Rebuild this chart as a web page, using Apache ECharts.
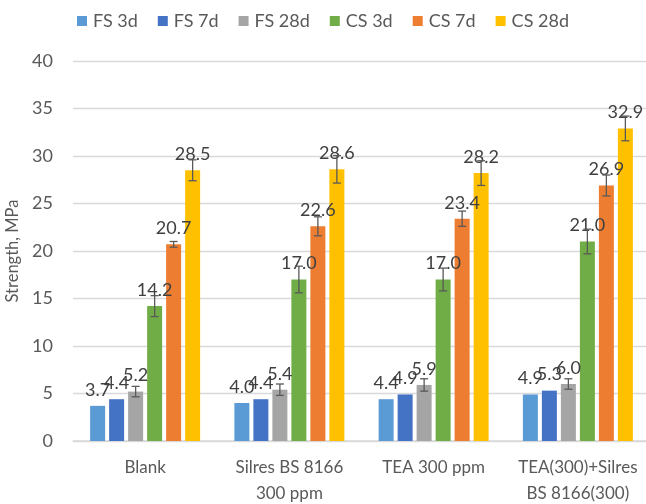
<!DOCTYPE html>
<html>
<head>
<meta charset="utf-8">
<script src="https://cdn.jsdelivr.net/npm/echarts@6/dist/echarts.min.js"></script>
<style>
  html, body { margin: 0; padding: 0; background: #fff; }
  #chart { width: 646px; height: 504px; }
</style>
</head>
<body>
<div id="chart"></div>
<script>
// Mixtures tested
const categories = ['Blank', 'Silres BS 8166\n300 ppm', 'TEA 300 ppm', 'TEA(300)+Silres\nBS 8166(300)'];

// Flexural (FS) and compressive (CS) strength, MPa
const fs3d  = [3.7, 4.0, 4.4, 4.9];
const fs7d  = [4.4, 4.4, 4.9, 5.3];
const fs28d = [5.2, 5.4, 5.9, 6.0];
const cs3d  = [14.2, 17.0, 17.0, 21.0];
const cs7d  = [20.7, 22.6, 23.4, 26.9];
const cs28d = [28.5, 28.6, 28.2, 32.9];

// Standard deviations (null = no error bar)
const fs3dErr  = [null, null, null, null];
const fs7dErr  = [null, null, null, null];
const fs28dErr = [0.55, 0.6, 0.65, 0.55];
const cs3dErr  = [1.1, 1.4, 1.2, 1.3];
const cs7dErr  = [0.3, 1.0, 0.8, 1.1];
const cs28dErr = [1.1, 1.45, 1.3, 1.3];

const yTicks = { min: 0, max: 40, interval: 5 };

const seriesDefs = [
  { name: 'FS 3d',  values: fs3d,  err: fs3dErr,  color: '#5B9BD5' },
  { name: 'FS 7d',  values: fs7d,  err: fs7dErr,  color: '#4472C4' },
  { name: 'FS 28d', values: fs28d, err: fs28dErr, color: '#A5A5A5' },
  { name: 'CS 3d',  values: cs3d,  err: cs3dErr,  color: '#70AD47' },
  { name: 'CS 7d',  values: cs7d,  err: cs7dErr,  color: '#ED7D31' },
  { name: 'CS 28d', values: cs28d, err: cs28dErr, color: '#FFC000' }
];

const FONT = 'Lato';
const BAR_W = 15;
const BAR_STEP = 19;
const n = seriesDefs.length;

const barSeries = seriesDefs.map(s => ({
  name: s.name,
  type: 'bar',
  barWidth: BAR_W,
  barGap: ((BAR_STEP - BAR_W) / BAR_W * 100).toFixed(2) + '%',
  itemStyle: { color: s.color },
  data: s.values,
  z: 2,
  label: {
    show: true,
    position: 'top',
    distance: 7,
    formatter: p => p.value.toFixed(1),
    fontFamily: FONT,
    fontSize: 18,
    color: '#404040'
  }
}));

const errSeries = seriesDefs.map((s, i) => ({
  name: s.name + ' err',
  type: 'custom',
  z: 3,
  silent: true,
  data: s.values.map((v, c) => s.err[c] == null ? null : [c, v - s.err[c], v + s.err[c]]).filter(d => d),
  renderItem: function (params, api) {
    const offset = (i - (n - 1) / 2) * BAR_STEP;
    const cx = api.coord([api.value(0), 0])[0] + offset;
    const yLo = api.coord([api.value(0), api.value(1)])[1];
    const yHi = api.coord([api.value(0), api.value(2)])[1];
    const cap = 4;
    const style = { stroke: '#595959', lineWidth: 1.3 };
    return {
      type: 'group',
      children: [
        { type: 'line', shape: { x1: cx, y1: yLo, x2: cx, y2: yHi }, style },
        { type: 'line', shape: { x1: cx - cap, y1: yHi, x2: cx + cap, y2: yHi }, style },
        { type: 'line', shape: { x1: cx - cap, y1: yLo, x2: cx + cap, y2: yLo }, style }
      ]
    };
  }
}));

const chart = echarts.init(document.getElementById('chart'), null, { renderer: 'canvas' });
chart.setOption({
  animation: false,
  backgroundColor: '#ffffff',
  textStyle: { fontFamily: FONT },
  legend: {
    data: seriesDefs.map(s => s.name),
    top: 7,
    left: 'center',
    icon: 'rect',
    itemWidth: 10,
    itemHeight: 10,
    itemGap: 20,
    textStyle: { fontFamily: FONT, fontSize: 18, color: '#595959', padding: [0, 0, 0, 1] }
  },
  grid: { left: 73, width: 577, top: 61, bottom: 63, containLabel: false, outerBoundsMode: 'none' },
  xAxis: {
    type: 'category',
    data: categories,
    axisLine: { show: true, lineStyle: { color: '#D9D9D9', width: 1.5 } },
    axisTick: { show: false },
    axisLabel: {
      fontFamily: FONT, fontSize: 17, color: '#595959',
      margin: 14, lineHeight: 26, interval: 0
    }
  },
  yAxis: {
    type: 'value',
    min: yTicks.min,
    max: yTicks.max,
    interval: yTicks.interval,
    name: 'Strength, MPa',
    nameLocation: 'middle',
    nameGap: 46,
    nameTextStyle: { fontFamily: FONT, fontSize: 16.5, color: '#595959' },
    axisLine: { show: false },
    axisTick: { show: false },
    axisLabel: { fontFamily: FONT, fontSize: 18, color: '#595959', margin: 20 },
    splitLine: { lineStyle: { color: '#D9D9D9', width: 1.3 } }
  },
  series: [...barSeries, ...errSeries]
});
</script>
</body>
</html>
